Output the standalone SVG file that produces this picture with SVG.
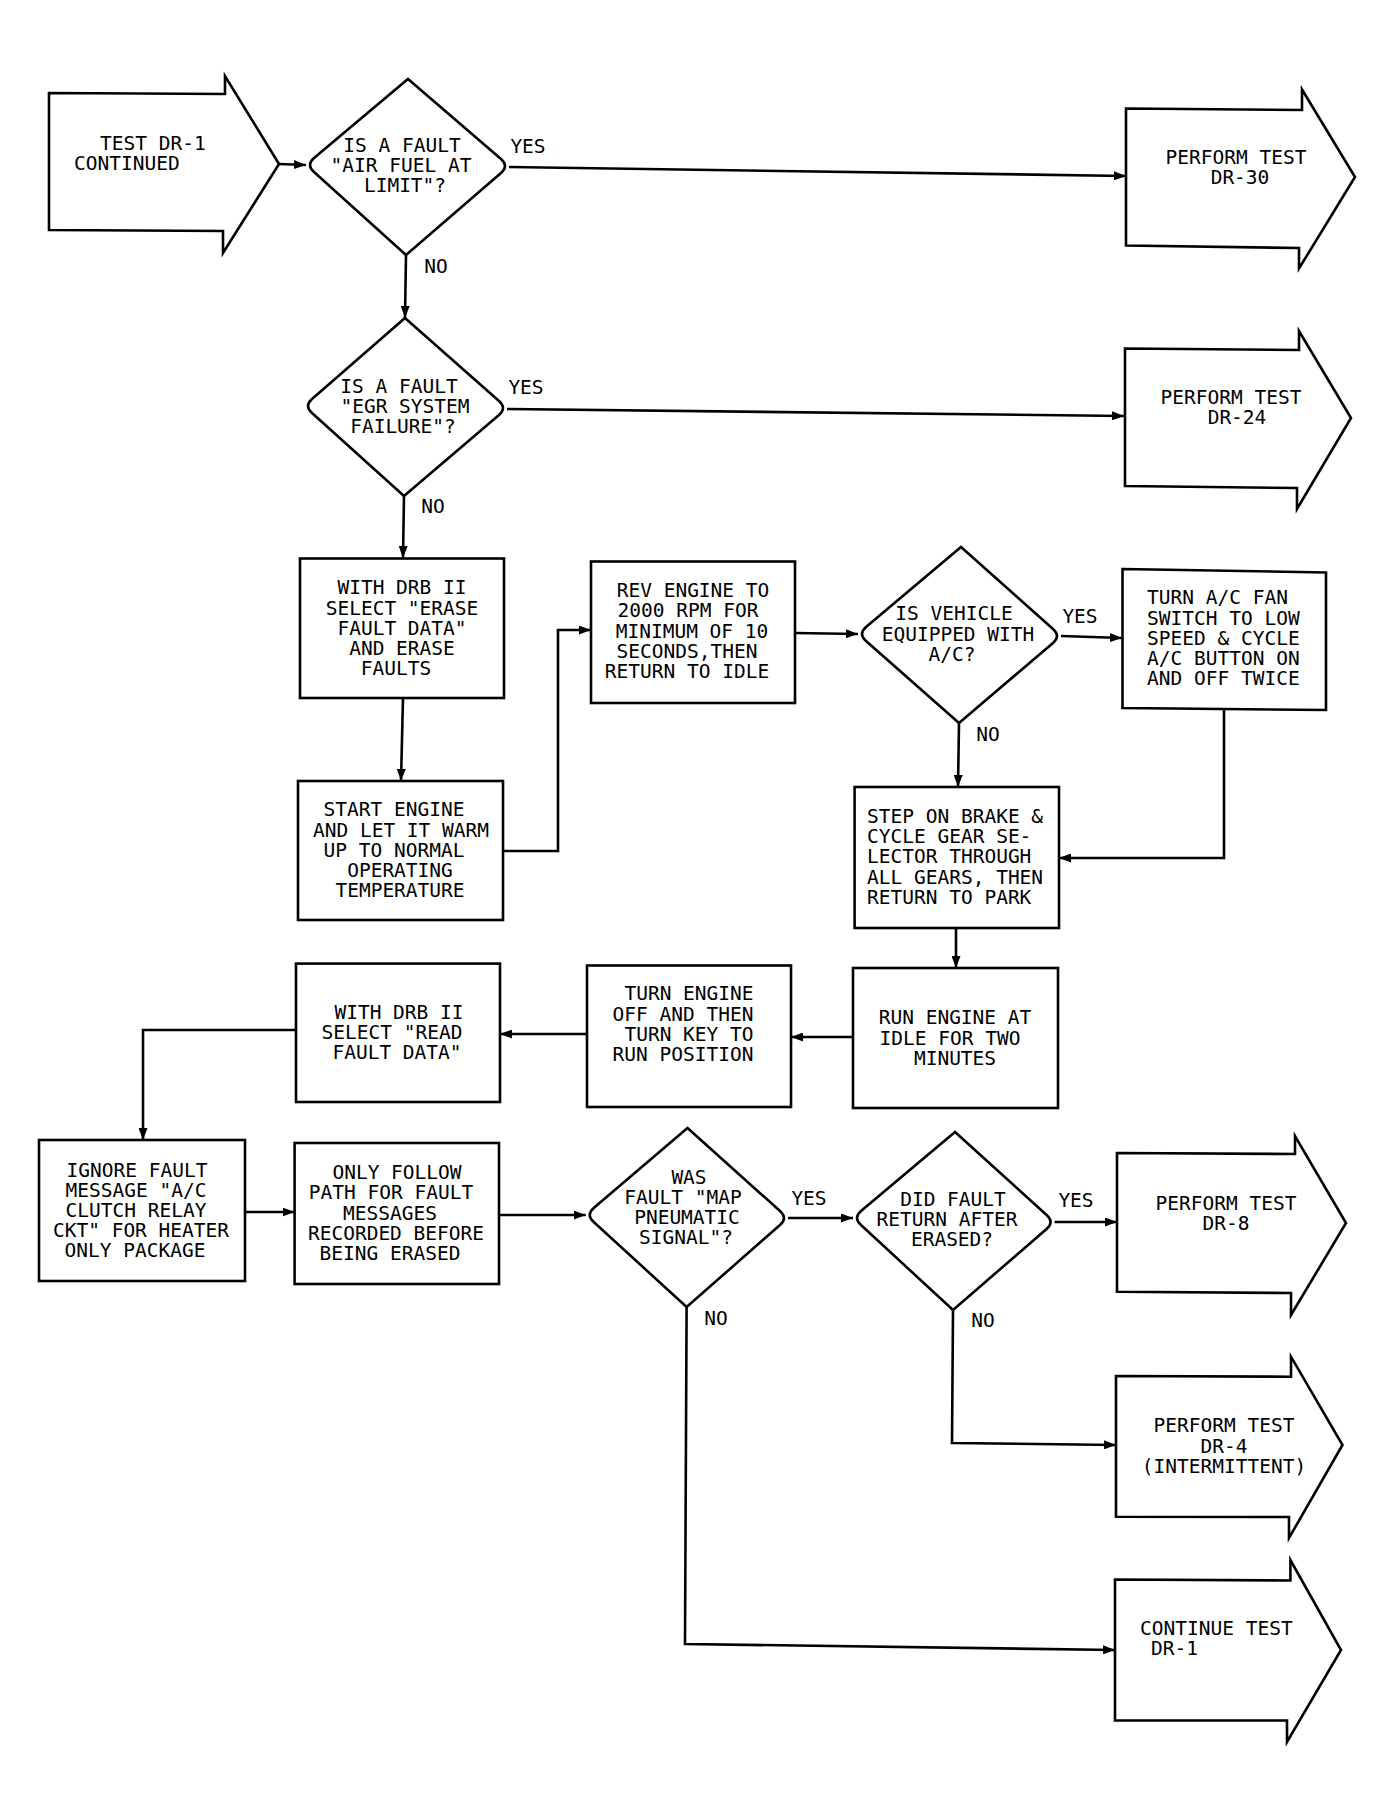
<svg xmlns="http://www.w3.org/2000/svg" width="1393" height="1816" viewBox="0 0 1393 1816">
<style>
.s{fill:#fff;stroke:#000;stroke-width:2.6;stroke-linejoin:miter}
.c{fill:none;stroke:#000;stroke-width:2.6}
text{font-family:"DejaVu Sans Mono","Liberation Mono",monospace;font-size:19.5px;fill:#000}
.m{text-anchor:middle}
</style>
<defs>
<marker id="ah" markerUnits="userSpaceOnUse" markerWidth="12" markerHeight="9" refX="12" refY="4.5" orient="auto">
<path d="M0,0 L12,4.5 L0,9 Z" fill="#000"/>
</marker>
</defs>
<rect width="1393" height="1816" fill="#fff"/>

<g id="connectors">
<path class="c" d="M279,164 L306,165" marker-end="url(#ah)"/>
<path class="c" d="M509,167 L1126,176" marker-end="url(#ah)"/>
<path class="c" d="M406,255 L405,318" marker-end="url(#ah)"/>
<path class="c" d="M507,409 L1124,416" marker-end="url(#ah)"/>
<path class="c" d="M404,496 L403,558" marker-end="url(#ah)"/>
<path class="c" d="M403,698 L401,781" marker-end="url(#ah)"/>
<path class="c" d="M503,851 L558,851 L558,630 L591,630" marker-end="url(#ah)"/>
<path class="c" d="M795,633 L858,634" marker-end="url(#ah)"/>
<path class="c" d="M1061,636 L1122,638" marker-end="url(#ah)"/>
<path class="c" d="M959,723 L958,787" marker-end="url(#ah)"/>
<path class="c" d="M1224,710 L1224,858 L1059,858" marker-end="url(#ah)"/>
<path class="c" d="M956,928 L956,968" marker-end="url(#ah)"/>
<path class="c" d="M853,1037 L791,1037" marker-end="url(#ah)"/>
<path class="c" d="M587,1034 L500,1034" marker-end="url(#ah)"/>
<path class="c" d="M296,1030 L143,1030 L143,1140" marker-end="url(#ah)"/>
<path class="c" d="M245,1212 L294.6,1212" marker-end="url(#ah)"/>
<path class="c" d="M499,1215 L585.7,1215" marker-end="url(#ah)"/>
<path class="c" d="M788,1218 L853,1218" marker-end="url(#ah)"/>
<path class="c" d="M1054.6,1222 L1117,1222" marker-end="url(#ah)"/>
<path class="c" d="M953,1310 L952,1443 L1116,1445" marker-end="url(#ah)"/>
<path class="c" d="M686.6,1307 L685,1644 L1115,1650" marker-end="url(#ah)"/>
</g>

<g id="labels">
<text class="m" x="528" y="153">YES</text>
<text class="m" x="436" y="273">NO</text>
<text class="m" x="526" y="394">YES</text>
<text class="m" x="433" y="513">NO</text>
<text class="m" x="1080" y="623">YES</text>
<text class="m" x="988" y="741">NO</text>
<text class="m" x="809" y="1205">YES</text>
<text class="m" x="716" y="1325">NO</text>
<text class="m" x="1076" y="1207">YES</text>
<text class="m" x="983" y="1327">NO</text>
</g>

<g id="start">
<path class="s" d="M49,93 L225,94 L225,76 L279,164 L223,253 L223,231 L49,230 Z"/>
<text x="100" y="150">TEST DR-1</text>
<text x="74" y="170">CONTINUED</text>
</g>

<g id="d1">
<path class="s" d="M408,79 L501,159 Q509,166 501,173 L406,255 L314,172 Q306,165 314,158 Z"/>
<text class="m" x="402" y="152">IS A FAULT</text>
<text class="m" x="401" y="172">"AIR FUEL AT</text>
<text class="m" x="405" y="192">LIMIT"?</text>
</g>

<g id="dr30">
<path class="s" d="M1126,108.5 L1302,110 L1302,89.5 L1355,177 L1299,268.5 L1299,248 L1126,245.5 Z"/>
<text class="m" x="1236" y="164">PERFORM TEST</text>
<text class="m" x="1240" y="184">DR-30</text>
</g>

<g id="d2">
<path class="s" d="M405,318 L499,401 Q507,408 499,415 L404,496 L312,413 Q304,406 312,399 Z"/>
<text class="m" x="399" y="393">IS A FAULT</text>
<text class="m" x="405" y="413">"EGR SYSTEM</text>
<text class="m" x="403" y="433">FAILURE"?</text>
</g>

<g id="dr24">
<path class="s" d="M1125,348.5 L1299,350 L1299,331 L1351,418 L1297,509 L1297,488 L1125,486 Z"/>
<text class="m" x="1231" y="404">PERFORM TEST</text>
<text class="m" x="1237" y="424">DR-24</text>
</g>

<g id="erase">
<rect class="s" x="300" y="558.5" width="204" height="139.5"/>
<text class="m" x="402" y="594">WITH DRB II</text>
<text class="m" x="402" y="615">SELECT "ERASE</text>
<text class="m" x="402" y="635">FAULT DATA"</text>
<text class="m" x="402" y="655">AND ERASE</text>
<text class="m" x="396" y="675">FAULTS</text>
</g>

<g id="startengine">
<rect class="s" x="298" y="781" width="205" height="139"/>
<text class="m" x="394" y="816">START ENGINE</text>
<text class="m" x="401" y="837">AND LET IT WARM</text>
<text class="m" x="394" y="857">UP TO NORMAL</text>
<text class="m" x="400" y="877">OPERATING</text>
<text class="m" x="400" y="897">TEMPERATURE</text>
</g>

<g id="rev">
<rect class="s" x="591" y="561.5" width="204" height="141.5"/>
<text class="m" x="693" y="597">REV ENGINE TO</text>
<text class="m" x="688" y="617">2000 RPM FOR</text>
<text class="m" x="692" y="638">MINIMUM OF 10</text>
<text class="m" x="687" y="658">SECONDS,THEN</text>
<text class="m" x="687" y="678">RETURN TO IDLE</text>
</g>

<g id="d3">
<path class="s" d="M961,547 L1053,629 Q1061,636 1053,643 L959,723 L866,641 Q858,634 866,627 Z"/>
<text class="m" x="954" y="620">IS VEHICLE</text>
<text class="m" x="958" y="641">EQUIPPED WITH</text>
<text class="m" x="952" y="661">A/C?</text>
</g>

<g id="acfan">
<path class="s" d="M1122.5,569 L1326,572.5 L1326,710 L1122.5,708 Z"/>
<text x="1147" y="604">TURN A/C FAN</text>
<text x="1147" y="625">SWITCH TO LOW</text>
<text x="1147" y="645">SPEED &amp; CYCLE</text>
<text x="1147" y="665">A/C BUTTON ON</text>
<text x="1147" y="685">AND OFF TWICE</text>
</g>

<g id="brake">
<rect class="s" x="854.6" y="787" width="204.4" height="141"/>
<text x="867" y="823">STEP ON BRAKE &amp;</text>
<text x="867" y="843">CYCLE GEAR SE-</text>
<text x="867" y="863">LECTOR THROUGH</text>
<text x="867" y="884">ALL GEARS, THEN</text>
<text x="867" y="904">RETURN TO PARK</text>
</g>

<g id="idle">
<rect class="s" x="853" y="968" width="205" height="140"/>
<text class="m" x="955" y="1024">RUN ENGINE AT</text>
<text class="m" x="950" y="1045">IDLE FOR TWO</text>
<text class="m" x="955" y="1065">MINUTES</text>
</g>

<g id="turnoff">
<rect class="s" x="587" y="965.5" width="204" height="141.5"/>
<text class="m" x="689" y="1000">TURN ENGINE</text>
<text class="m" x="683" y="1021">OFF AND THEN</text>
<text class="m" x="689" y="1041">TURN KEY TO</text>
<text class="m" x="683" y="1061">RUN POSITION</text>
</g>

<g id="read">
<rect class="s" x="296" y="963.6" width="204" height="138.4"/>
<text class="m" x="399" y="1019">WITH DRB II</text>
<text class="m" x="392" y="1039">SELECT "READ</text>
<text class="m" x="397" y="1059">FAULT DATA"</text>
</g>

<g id="ignore">
<rect class="s" x="39" y="1140" width="206" height="141"/>
<text class="m" x="137" y="1177">IGNORE FAULT</text>
<text class="m" x="136" y="1197">MESSAGE "A/C</text>
<text class="m" x="136" y="1217">CLUTCH RELAY</text>
<text class="m" x="141" y="1237">CKT" FOR HEATER</text>
<text class="m" x="135" y="1257">ONLY PACKAGE</text>
</g>

<g id="follow">
<rect class="s" x="294.6" y="1143" width="204.4" height="141"/>
<text class="m" x="397" y="1179">ONLY FOLLOW</text>
<text class="m" x="391" y="1199">PATH FOR FAULT</text>
<text class="m" x="390" y="1220">MESSAGES</text>
<text class="m" x="396" y="1240">RECORDED BEFORE</text>
<text class="m" x="390" y="1260">BEING ERASED</text>
</g>

<g id="d4">
<path class="s" d="M687.5,1128 L780,1211 Q788,1218 780,1225 L686.6,1307 L593.7,1222 Q585.7,1215 593.7,1208 Z"/>
<text class="m" x="689" y="1184">WAS</text>
<text class="m" x="683" y="1204">FAULT "MAP</text>
<text class="m" x="687" y="1224">PNEUMATIC</text>
<text class="m" x="686" y="1244">SIGNAL"?</text>
</g>

<g id="d5">
<path class="s" d="M955,1132 L1046.6,1215 Q1054.6,1222 1046.6,1229 L953,1310 L861,1225 Q853,1218 861,1211 Z"/>
<text class="m" x="953" y="1206">DID FAULT</text>
<text class="m" x="947" y="1226">RETURN AFTER</text>
<text class="m" x="952" y="1246">ERASED?</text>
</g>

<g id="dr8">
<path class="s" d="M1117,1153 L1295,1154 L1295,1136 L1346,1223 L1291,1315 L1291,1293 L1117,1291.7 Z"/>
<text class="m" x="1226" y="1210">PERFORM TEST</text>
<text class="m" x="1226" y="1230">DR-8</text>
</g>

<g id="dr4">
<path class="s" d="M1116,1376 L1291,1376.7 L1291,1356.7 L1342.5,1445 L1289,1538 L1289,1517 L1116,1516.8 Z"/>
<text class="m" x="1224" y="1432">PERFORM TEST</text>
<text class="m" x="1224" y="1453">DR-4</text>
<text class="m" x="1224" y="1473">(INTERMITTENT)</text>
</g>

<g id="continue">
<path class="s" d="M1115,1579.5 L1290.4,1580.5 L1290.4,1560 L1341,1650 L1287,1742 L1287,1720.5 L1115,1720.5 Z"/>
<text x="1140" y="1635">CONTINUE TEST</text>
<text x="1151" y="1655">DR-1</text>
</g>
</svg>
